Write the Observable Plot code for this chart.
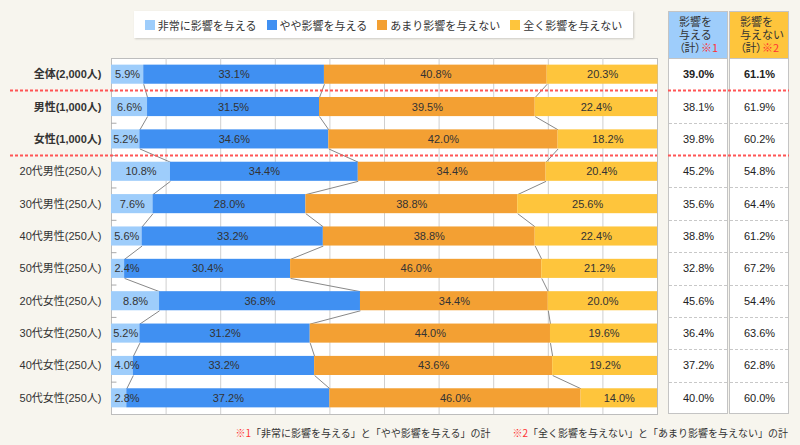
<!DOCTYPE html>
<html><head><meta charset="utf-8">
<script src="https://cdn.jsdelivr.net/npm/d3@7"></script>
<script src="https://cdn.jsdelivr.net/npm/@observablehq/plot@0.6"></script>
<style>
html,body{margin:0;padding:0;background:#f7f5ee;}
#wrap{position:relative;width:800px;height:445px;overflow:hidden;background:#f7f5ee;font-family:"Liberation Sans","Noto Sans CJK JP",sans-serif;color:#333;}
#legendBox{position:absolute;left:134px;top:11px;width:499px;height:27px;background:#fff;box-shadow:1px 1px 2px rgba(0,0,0,0.18);display:flex;align-items:center;justify-content:center;}
.lg-swatches{margin:0 !important;font-family:"Noto Sans CJK JP",sans-serif !important;font-size:11px !important;color:#333 !important;min-height:0 !important;}
.lg-swatch{margin-right:10px !important;}
.lg-swatch:last-child{margin-right:0 !important;}
.lg-swatch > svg{margin-right:3px !important;}
.hdr{position:absolute;top:11px;height:47px;width:60px;box-sizing:border-box;border:1px solid #c4c4c4;border-bottom:none;font-family:"Noto Sans CJK JP",sans-serif;font-size:11px;line-height:13px;padding:3px 0 0 10px;color:#333;white-space:nowrap;}
.hdr .p{font-feature-settings:"palt";}
.body{position:absolute;top:58px;height:356px;width:60px;box-sizing:border-box;background:#fff;border:1px solid #c4c4c4;}
.red{color:#f33;}
#foot{position:absolute;right:12px;top:425px;font-family:"Noto Sans CJK JP",sans-serif;font-size:10px;color:#333;white-space:nowrap;}
#foot .gap{display:inline-block;width:22px;}
svg.main{position:absolute;left:0;top:0;}
</style></head>
<body><div id="wrap"></div>
<script>
const groups = ["全体(2,000人)","男性(1,000人)","女性(1,000人)","20代男性(250人)","30代男性(250人)","40代男性(250人)","50代男性(250人)","20代女性(250人)","30代女性(250人)","40代女性(250人)","50代女性(250人)"];
const boldGroups = ["全体(2,000人)","男性(1,000人)","女性(1,000人)"];
const series = ["非常に影響を与える","やや影響を与える","あまり影響を与えない","全く影響を与えない"];
const colors = ["#9ecdfb","#4090f2","#f3a033","#fec53c"];
const verySome = [5.9,6.6,5.2,10.8,7.6,5.6,2.4,8.8,5.2,4.0,2.8];
const slightly = [33.1,31.5,34.6,34.4,28.0,33.2,30.4,36.8,31.2,33.2,37.2];
const notMuch  = [40.8,39.5,42.0,34.4,38.8,38.8,46.0,34.4,44.0,43.6,46.0];
const notAtAll = [20.3,22.4,18.2,20.4,25.6,22.4,21.2,20.0,19.6,19.2,14.0];
const totalAffect = [39.0,38.1,39.8,45.2,35.6,38.8,32.8,45.6,36.4,37.2,40.0];
const totalNot    = [61.1,61.9,60.2,54.8,64.4,61.2,67.2,54.4,63.6,62.8,60.0];
const redLines = [0.5, 2.5];

const seriesVals = [verySome, slightly, notMuch, notAtAll];
const segs = [];
const bounds = [];
groups.forEach((g, i) => {
  let acc = 0;
  const b = [];
  seriesVals.forEach((arr, j) => {
    const v = arr[i];
    segs.push({i, group: g, series: series[j], j, value: v, x1: acc, x2: acc + v});
    acc += v;
    if (j < 3) b.push(acc);
  });
  bounds.push(b);
});
const links = [];
for (let i = 0; i < groups.length - 1; i++) {
  for (let k = 0; k < 3; k++) links.push({i, xa: bounds[i][k], xb: bounds[i + 1][k]});
}
const rowIdx = groups.map((g, i) => i);
const rowBounds = d3.range(0.5, groups.length - 0.5, 1);
const H = 0.295;
const FONT = '"Liberation Sans","Noto Sans CJK JP",sans-serif';
const fmt = v => v.toFixed(1) + "%";
const isBold = i => boldGroups.includes(groups[i]);

const chart = Plot.plot({
  width: 800, height: 445,
  marginLeft: 111, marginRight: 143, marginTop: 58, marginBottom: 31,
  x: {domain: [0, 100], axis: null},
  y: {domain: [-0.5, groups.length - 0.5], reverse: true, axis: null},
  color: {domain: series, range: colors},
  style: {background: "transparent", fontFamily: FONT, fontSize: "11px", color: "#333"},
  marks: [
    Plot.frame({fill: "#fff", stroke: "#bdbdbd"}),
    Plot.ruleX(d3.range(10, 100, 10), {stroke: "#cfcfcf"}),
    Plot.ruleY(rowBounds, {y: d => d, x1: 0, x2: 1, stroke: "#aaa"}),
    Plot.link(links, {x1: "xa", y1: d => d.i + H, x2: "xb", y2: d => d.i + 1 - H, stroke: "#888", strokeWidth: 1}),
    Plot.rectX(segs, {x1: "x1", x2: "x2", y1: d => d.i - H, y2: d => d.i + H, fill: "series"}),
    Plot.text(segs.filter(d => !(d.j === 0 && d.value < 5)), {x: d => (d.x1 + d.x2) / 2, y: "i", text: d => fmt(d.value), fill: "#333", fontSize: 11}),
    Plot.text(segs.filter(d => d.j === 0 && d.value < 5), {x: "x1", y: "i", dx: 3, textAnchor: "start", text: d => fmt(d.value), fill: "#333", fontSize: 11}),
    Plot.text(rowIdx.filter(isBold), {x: 0, y: d => d, dx: -10, textAnchor: "end", text: d => groups[d], fontWeight: "bold", fill: "#333", fontSize: 11}),
    Plot.text(rowIdx.filter(i => !isBold(i)), {x: 0, y: d => d, dx: -10, textAnchor: "end", text: d => groups[d], fill: "#333", fontSize: 11}),
    Plot.text(rowIdx.filter(i => i === 0), {x: 100, y: d => d, dx: 41, text: d => fmt(totalAffect[d]), fontWeight: "bold", fill: "#222", fontSize: 11}),
    Plot.text(rowIdx.filter(i => i === 0), {x: 100, y: d => d, dx: 102, text: d => fmt(totalNot[d]), fontWeight: "bold", fill: "#222", fontSize: 11}),
    Plot.text(rowIdx.filter(i => i !== 0), {x: 100, y: d => d, dx: 41, text: d => fmt(totalAffect[d]), fill: "#222", fontSize: 11}),
    Plot.text(rowIdx.filter(i => i !== 0), {x: 100, y: d => d, dx: 102, text: d => fmt(totalNot[d]), fill: "#222", fontSize: 11})
  ]
});
chart.classList.add("main");

const wrap = document.getElementById("wrap");
const lb = document.createElement("div");
lb.id = "legendBox";
lb.appendChild(chart.legend("color", {className: "lg", swatchSize: 10}));
wrap.appendChild(lb);
const hdrs = [
  {left: 668, bg: "#9ecdfb", html: '影響を<br>与える<br><span class="p">（計）</span><span class="red">※1</span>'},
  {left: 729, bg: "#fec53c", html: '影響を<br>与えない<br><span class="p">（計）</span><span class="red">※2</span>'}
];
hdrs.forEach(h => {
  const d = document.createElement("div");
  d.className = "hdr"; d.style.left = h.left + "px"; d.style.background = h.bg; d.innerHTML = h.html;
  wrap.appendChild(d);
  const b = document.createElement("div");
  b.className = "body"; b.style.left = h.left + "px";
  wrap.appendChild(b);
});
wrap.appendChild(chart);
const ys = chart.scale("y");
const svg = d3.select(chart);
const g = svg.append("g");
rowBounds.forEach(b => {
  const yy = Math.round(ys.apply(b)) + 0.5;
  if (redLines.includes(b)) {
    [[10, 657], [668, 789]].forEach(([a, c]) => {
      g.append("line").attr("x1", a).attr("x2", c).attr("y1", yy).attr("y2", yy)
        .attr("stroke", "#f55").attr("stroke-width", 2).attr("stroke-dasharray", "3,2");
    });
  } else {
    [[669, 727], [730, 788]].forEach(([a, c]) => {
      g.append("line").attr("x1", a).attr("x2", c).attr("y1", yy).attr("y2", yy)
        .attr("stroke", "#c8c8c8").attr("stroke-dasharray", "3,2");
    });
  }
});
const f = document.createElement("div");
f.id = "foot";
f.innerHTML = '<span class="red">※1</span>「非常に影響を与える」と「やや影響を与える」の計<span class="gap"></span><span class="red">※2</span>「全く影響を与えない」と「あまり影響を与えない」の計';
wrap.appendChild(f);
</script></body></html>
